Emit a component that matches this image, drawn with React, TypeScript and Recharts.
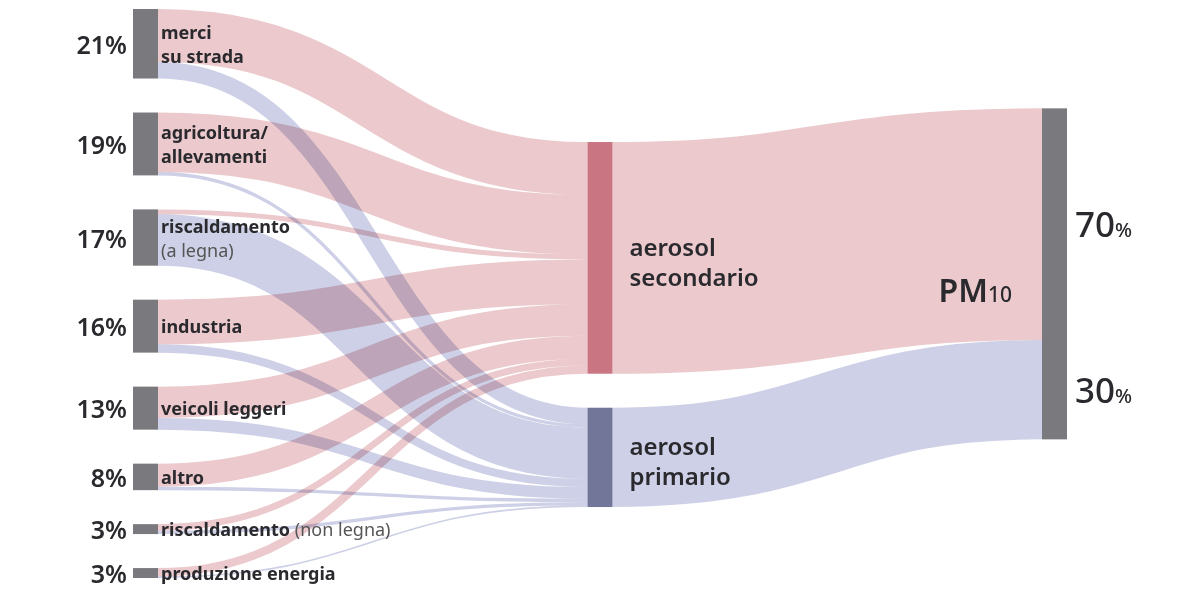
import React from "react";
import { Sankey } from "recharts";

// sources of PM10 (share of total, %)
const SOURCE_NAMES = [
  "merci su strada",
  "agricoltura/ allevamenti",
  "riscaldamento (a legna)",
  "industria",
  "veicoli leggeri",
  "altro",
  "riscaldamento (non legna)",
  "produzione energia",
];
const TO_SECONDARY = [16, 18, 1.5, 13.5, 9.5, 7, 2, 2.5];
const TO_PRIMARY = [5, 1, 15.5, 2.5, 3.5, 1, 1, 0.5];

const AEROSOL_NAMES = ["aerosol secondario", "aerosol primario"];
const TO_PM10 = [70, 30];
const TARGET_NAME = "PM10";

// how each label is split on lines: [text, bold]
const LABEL_LINES: Record<string, [string, boolean][][]> = {
  "merci su strada": [[["merci", true]], [["su strada", true]]],
  "agricoltura/ allevamenti": [[["agricoltura/", true]], [["allevamenti", true]]],
  "riscaldamento (a legna)": [[["riscaldamento", true]], [["(a legna)", false]]],
  industria: [[["industria", true]]],
  "veicoli leggeri": [[["veicoli leggeri", true]]],
  altro: [[["altro", true]]],
  "riscaldamento (non legna)": [[["riscaldamento ", true], ["(non legna)", false]]],
  "produzione energia": [[["produzione energia", true]]],
  "aerosol secondario": [[["aerosol", true]], [["secondario", true]]],
  "aerosol primario": [[["aerosol", true]], [["primario", true]]],
};

const FONT = "'Noto Sans', sans-serif";
const TEXT = "#2a2a2e";
const NODE_WIDTH = 25;

const nodes = [
  ...SOURCE_NAMES.map((name) => ({ name })),
  ...AEROSOL_NAMES.map((name) => ({ name })),
  { name: TARGET_NAME },
];
const secIdx = SOURCE_NAMES.length;
const primIdx = SOURCE_NAMES.length + 1;
const pmIdx = SOURCE_NAMES.length + 2;

const links = [
  ...SOURCE_NAMES.flatMap((_, i) => [
    { source: i, target: secIdx, value: TO_SECONDARY[i] },
    { source: i, target: primIdx, value: TO_PRIMARY[i] },
  ]),
  { source: secIdx, target: pmIdx, value: TO_PM10[0] },
  { source: primIdx, target: pmIdx, value: TO_PM10[1] },
];

const nodeColor = (name: string) =>
  name === AEROSOL_NAMES[0] ? "#c97682" : name === AEROSOL_NAMES[1] ? "#727799" : "#7a7a7e";

function NodeShape(props: any) {
  const { x, y, width, height, payload } = props;
  const name: string = payload.name;
  const cy = y + height / 2;
  const lines = LABEL_LINES[name];
  const isSource = payload.depth === 0;
  const isMiddle = AEROSOL_NAMES.includes(name);
  const fs = isMiddle ? 24 : 18;
  const lh = isMiddle ? 30 : 24;
  const shift = isMiddle ? 3 : 0;

  return (
    <g>
      <rect x={x} y={y} width={width} height={height} fill={nodeColor(name)} />
      {isSource && (
        <text
          x={x - 6}
          y={cy}
          textAnchor="end"
          dominantBaseline="central"
          fontFamily={FONT}
          fontSize={25}
          fontWeight={600}
          fill={TEXT}
        >
          {`${Math.round(payload.value)}%`}
        </text>
      )}
      {lines &&
        lines.map((segs, li) => (
          <text
            key={li}
            x={x + width + (isMiddle ? 17 : 3)}
            y={cy + shift + (li - (lines.length - 1) / 2) * lh}
            dominantBaseline="central"
            fontFamily={FONT}
            fontSize={fs}
            fill={TEXT}
          >
            {segs.map(([t, bold], si) => (
              <tspan
                key={si}
                fontWeight={bold ? (isMiddle ? 600 : 700) : 400}
                fill={bold ? TEXT : "#555"}
              >
                {t}
              </tspan>
            ))}
          </text>
        ))}
      {name === TARGET_NAME && (
        <text
          x={x - 30}
          y={cy + 28}
          textAnchor="end"
          fontFamily={FONT}
          fontSize={32}
          fontWeight={600}
          fill={TEXT}
        >
          PM<tspan fontSize={21} fontWeight={500}>10</tspan>
        </text>
      )}
    </g>
  );
}

function LinkShape(props: any) {
  const { sourceX, sourceY, sourceControlX, targetX, targetY, targetControlX, linkWidth, payload } =
    props;
  const toPrimary = payload.target.name === AEROSOL_NAMES[1] || payload.source.name === AEROSOL_NAMES[1];
  const color = toPrimary ? "#cdd0e6" : "#ebc9cc";
  const d = `M${sourceX},${sourceY} C${sourceControlX},${sourceY} ${targetControlX},${targetY} ${targetX},${targetY}`;
  return (
    <g>
      <path
        d={d}
        fill="none"
        stroke={color}
        strokeWidth={Math.max(linkWidth, 1.5)}
        style={{ mixBlendMode: "multiply" }}
      />
      {payload.target.name === TARGET_NAME && (
        <text
          x={targetX + NODE_WIDTH + 8}
          y={targetY + 13}
          fontFamily={FONT}
          fontSize={35}
          fontWeight={500}
          fill={TEXT}
        >
          {payload.value}
          <tspan fontSize={20}>%</tspan>
        </text>
      )}
    </g>
  );
}

export default function App() {
  return (
    <div style={{ width: 1182, height: 588, background: "#fff" }}>
      <Sankey
        width={1182}
        height={588}
        data={{ nodes, links }}
        nodeWidth={NODE_WIDTH}
        nodePadding={34}
        linkCurvature={0.5}
        iterations={32}
        sort={false}
        margin={{ top: 1, right: 123, bottom: 18, left: 125 }}
        node={<NodeShape />}
        link={<LinkShape />}
      />
    </div>
  );
}
